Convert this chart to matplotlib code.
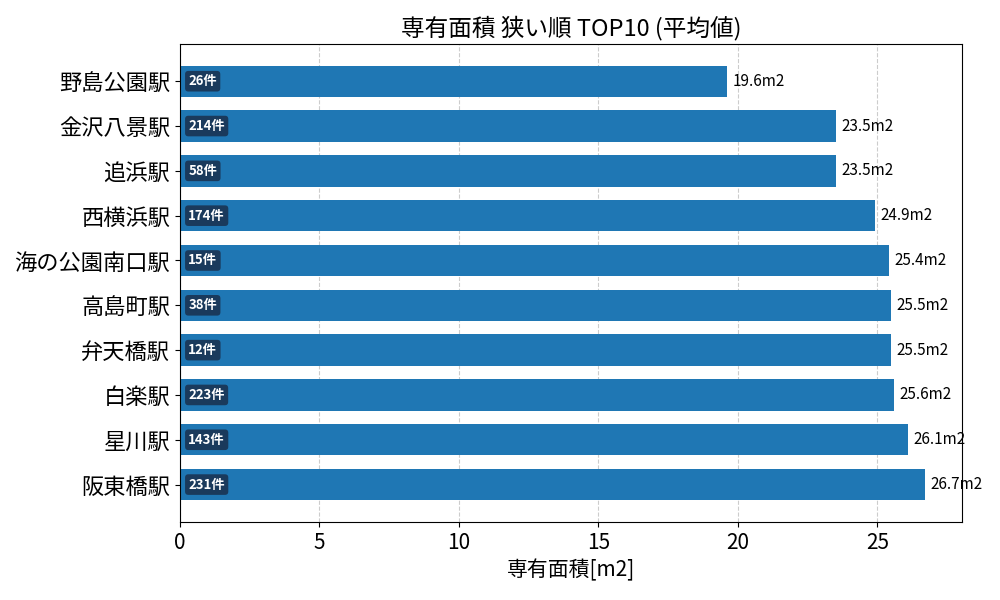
import matplotlib
matplotlib.use("Agg")
import matplotlib.pyplot as plt

plt.rcParams['font.family'] = ['Noto Sans CJK JP', 'DejaVu Sans']

stations = ["野島公園駅", "金沢八景駅", "追浜駅", "西横浜駅", "海の公園南口駅",
            "高島町駅", "弁天橋駅", "白楽駅", "星川駅", "阪東橋駅"]
areas = [19.6, 23.5, 23.5, 24.9, 25.4, 25.5, 25.5, 25.6, 26.1, 26.7]
counts = [26, 214, 58, 174, 15, 38, 12, 223, 143, 231]

fig = plt.figure(figsize=(10, 6), dpi=100)
ax = fig.add_axes([0.18, 0.13, 0.782, 0.797])

y = range(len(stations))
ax.barh(y, areas, height=0.7, color="#1f77b4", zorder=2)
ax.set_yticks(list(y))
ax.set_yticklabels(stations, fontsize=16)
ax.invert_yaxis()
ax.set_xlim(0, max(areas) * 1.05)
ax.tick_params(axis='x', labelsize=15)
ax.grid(axis='x', linestyle='--', color='#cccccc', zorder=0)
ax.set_axisbelow(True)

for i, (a, c) in enumerate(zip(areas, counts)):
    ax.text(a + 0.2, i, f"{a:.1f}m2", va='center', ha='left', fontsize=11)
    ax.text(0.3, i, f"{c}件", va='center', ha='left', fontsize=9.5,
            color='white', fontweight='bold',
            bbox=dict(boxstyle='round,pad=0.25', fc='#1a3a5c', ec='none'))

ax.set_xlabel("専有面積[m2]", fontsize=15)
ax.set_title("専有面積 狭い順 TOP10 (平均値)", fontsize=17)

fig.savefig("out.png")
